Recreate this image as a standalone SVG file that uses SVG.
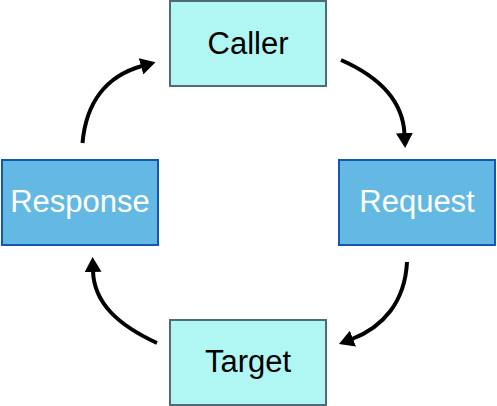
<svg xmlns="http://www.w3.org/2000/svg" width="497" height="406" viewBox="0 0 497 406">
<style>
.light rect{fill:#b0f6f2;stroke:#4d6b78;stroke-width:2}
.dark rect{fill:#63b9e3;stroke:#1557b0;stroke-width:2}
text{font-family:"Liberation Sans",Arial,sans-serif;font-size:31px;text-anchor:middle}
.light text{fill:#000}
.dark text{fill:#fff}
.conn path{fill:none;stroke:#000;stroke-width:4}
</style>
<defs>
<marker id="ah" markerUnits="userSpaceOnUse" markerWidth="16" markerHeight="17" refX="1" refY="8.5" orient="auto">
<path d="M0,0 L15,8.5 L0,17 z" fill="#000"/>
</marker>
</defs>
<rect width="497" height="406" fill="#fff"/>
<g id="caller" class="light"><rect x="170" y="1" width="156" height="85"/><text x="248" y="53.5">Caller</text></g>
<g id="request" class="dark"><rect x="339" y="160" width="156" height="85"/><text x="417" y="211.5">Request</text></g>
<g id="response" class="dark"><rect x="2" y="160" width="156" height="85"/><text x="80" y="211.5">Response</text></g>
<g id="target" class="light"><rect x="170" y="320" width="156" height="85"/><text x="248" y="371.5">Target</text></g>
<g id="connectors" class="conn">
<path d="M341,60 C382,78 403,103 404.5,134" marker-end="url(#ah)"/>
<path d="M407,262 C405,302 383,327 352,339" marker-end="url(#ah)"/>
<path d="M157,343 C118,325 94,303 93,271" marker-end="url(#ah)"/>
<path d="M82.5,143 C86,103 106,76 142,66" marker-end="url(#ah)"/>
</g>
</svg>
